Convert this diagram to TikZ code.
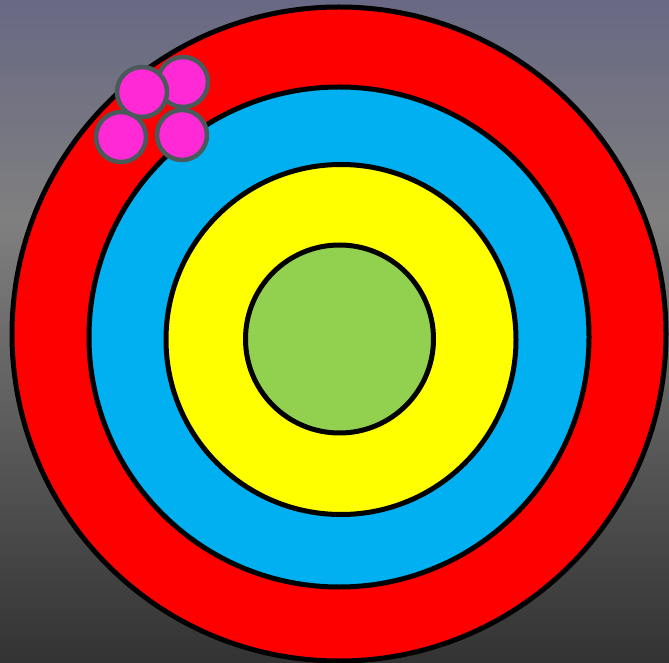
\documentclass[tikz,border=0pt]{standalone}
\usetikzlibrary{positioning}
\definecolor{bgtop}{rgb}{0.41,0.41,0.52}
\definecolor{bgmid}{rgb}{0.5,0.5,0.5}
\definecolor{bgbot}{rgb}{0.2,0.2,0.2}
\definecolor{ringred}{rgb}{1.,0.,0.}
\definecolor{ringblue}{rgb}{0.,0.69,0.94}
\definecolor{ringyellow}{rgb}{1.,1.,0.}
\definecolor{ringgreen}{rgb}{0.57,0.82,0.31}
\definecolor{dotpink}{rgb}{1.,0.16,0.84}
\definecolor{dotedge}{rgb}{0.29,0.35,0.35}

\begin{document}
\begin{tikzpicture}[line cap=round,line join=round,x=1pt,y=1pt]
        \useasboundingbox (0,0) rectangle (669,662);
        \clip (0,0) rectangle (669,662);
        % background
        \shade [top color=bgmid,bottom color=bgbot] (0,0) rectangle (669,442);
        \shade [top color=bgtop,bottom color=bgmid] (0,441) rectangle (669,662);
        % rings
        \draw [line width=5pt,fill=ringred] (339,328) circle (327);
        \draw [line width=5pt,fill=ringblue] (339,325) circle (250);
        \draw [line width=5pt,fill=ringyellow] (341,322.5) circle (175);
        \draw [line width=5pt,fill=ringgreen] (339.5,323) circle (94);
        % hits
        \draw [line width=4.5pt,color=dotedge,fill=dotpink] (183,580) circle (25);
        \draw [line width=4.5pt,color=dotedge,fill=dotpink] (121,525) circle (25);
        \draw [line width=4.5pt,color=dotedge,fill=dotpink] (142,570) circle (25);
        \draw [line width=4.5pt,color=dotedge,fill=dotpink] (182,527) circle (25);
    \end{tikzpicture}
\end{document}
